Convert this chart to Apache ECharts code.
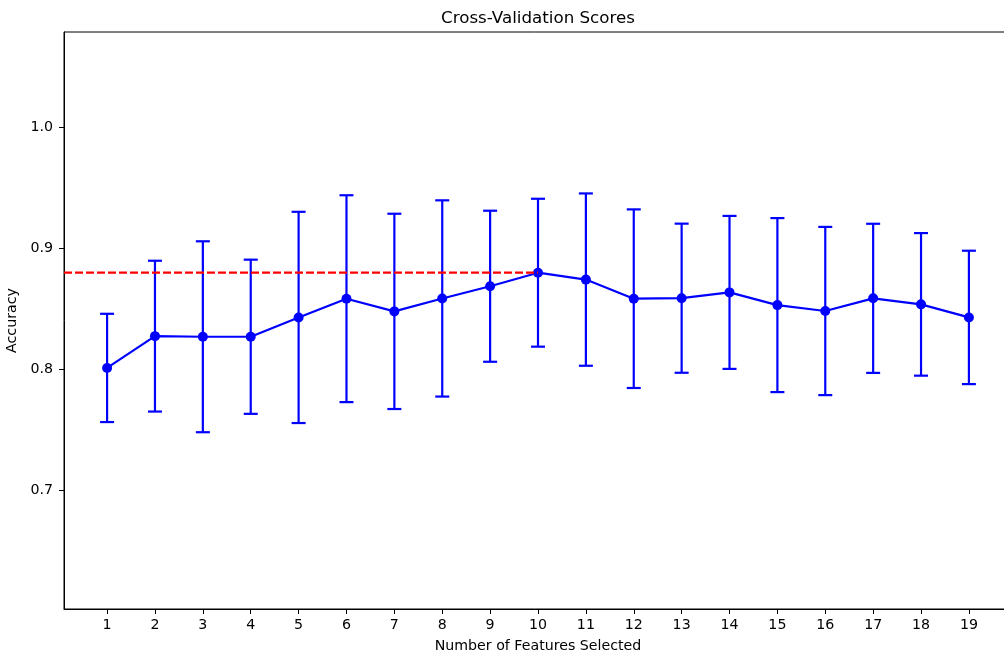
<!DOCTYPE html>
<html>
<head>
<meta charset="utf-8">
<script src="https://cdn.jsdelivr.net/npm/echarts@6/dist/echarts.min.js"></script>
<style>
  html, body { margin: 0; padding: 0; background: #fff; }
  #chart { width: 1004px; height: 656px; }
</style>
</head>
<body>
<div id="chart"></div>
<script>
// ---- Data ----
var features = [1, 2, 3, 4, 5, 6, 7, 8, 9, 10, 11, 12, 13, 14, 15, 16, 17, 18, 19];
var meanScores = [0.8012, 0.8275, 0.8270, 0.8270, 0.8430, 0.8585, 0.8480, 0.8587, 0.8688, 0.8800,
                  0.8743, 0.8585, 0.8589, 0.8637, 0.8532, 0.8483, 0.8588, 0.8538, 0.8430];
var stdScores = [0.0448, 0.0624, 0.0790, 0.0638, 0.0874, 0.0856, 0.0808, 0.0812, 0.0625, 0.0612,
                 0.0713, 0.0739, 0.0617, 0.0633, 0.0720, 0.0696, 0.0617, 0.0590, 0.0552];
var yTicks = [0.7, 0.8, 0.9, 1.0];
var xTicks = features;

var titleText = 'Cross-Validation Scores';
var xLabel = 'Number of Features Selected';
var yLabel = 'Accuracy';

// ---- Derived ----
var xMin = 0.1, xMax = 19.9;
var yMin = 0.6017, yMax = 1.0792;

var lineData = features.map(function (f, i) { return [f, meanScores[i]]; });
var errData = features.map(function (f, i) {
  return [f, meanScores[i] - stdScores[i], meanScores[i] + stdScores[i]];
});
var bestIdx = 0;
meanScores.forEach(function (v, i) { if (v > meanScores[bestIdx]) bestIdx = i; });
var bestScore = meanScores[bestIdx];
var bestLineData = [[xMin, bestScore], [features[bestIdx], bestScore]];

var FONT = 'DejaVu Sans';
var chart = echarts.init(document.getElementById('chart'), null, { renderer: 'canvas' });

var gridLeft = 64, gridTop = 32, gridBottom = 47, gridRight = -8;

chart.setOption({
  animation: false,
  backgroundColor: '#ffffff',
  textStyle: { fontFamily: FONT },
  graphic: [{
    type: 'text',
    x: (gridLeft + (1004 - gridRight)) / 2,
    y: 18.5,
    style: {
      text: titleText,
      fontFamily: FONT,
      fontSize: 16.7,
      fill: '#000',
      align: 'center',
      verticalAlign: 'middle'
    }
  }],
  grid: {
    left: gridLeft, top: gridTop, bottom: gridBottom, right: gridRight,
    show: true, borderColor: '#000', borderWidth: 1, backgroundColor: 'transparent',
    containLabel: false,
    outerBoundsMode: 'none'
  },
  xAxis: {
    type: 'value',
    min: xMin, max: xMax,
    name: xLabel,
    nameLocation: 'middle',
    nameGap: 30,
    nameTextStyle: { fontFamily: FONT, fontSize: 14.2, color: '#000' },
    axisLine: { show: true, onZero: false, lineStyle: { color: '#000', width: 1 } },
    axisTick: { show: true, inside: false, length: 5, customValues: xTicks, lineStyle: { color: '#000', width: 1 } },
    axisLabel: {
      show: true, margin: 9, fontFamily: FONT, fontSize: 14.2, color: '#000',
      customValues: xTicks,
      formatter: function (v) { return String(Math.round(v)); }
    },
    splitLine: { show: false }
  },
  yAxis: {
    type: 'value',
    min: yMin, max: yMax,
    name: yLabel,
    nameLocation: 'middle',
    nameGap: 38.5,
    nameRotate: 90,
    nameTextStyle: { fontFamily: FONT, fontSize: 14.2, color: '#000' },
    axisLine: { show: true, onZero: false, lineStyle: { color: '#000', width: 1 } },
    axisTick: { show: true, inside: false, length: 5, customValues: yTicks, lineStyle: { color: '#000', width: 1 } },
    axisLabel: {
      show: true, margin: 11, fontFamily: FONT, fontSize: 14.2, color: '#000',
      customValues: yTicks,
      formatter: function (v) { return v.toFixed(1); }
    },
    splitLine: { show: false }
  },
  series: [
    {
      type: 'custom',
      name: 'errors',
      data: errData,
      encode: { x: 0, y: [1, 2] },
      z: 2,
      renderItem: function (params, api) {
        var x = api.value(0), lo = api.value(1), hi = api.value(2);
        var pHi = api.coord([x, hi]);
        var pLo = api.coord([x, lo]);
        var half = 7;
        var st = { stroke: '#0000ff', lineWidth: 2.2, fill: null };
        return {
          type: 'group',
          children: [
            { type: 'line', shape: { x1: pHi[0], y1: pHi[1], x2: pLo[0], y2: pLo[1] }, style: st },
            { type: 'line', shape: { x1: pHi[0] - half, y1: pHi[1], x2: pHi[0] + half, y2: pHi[1] }, style: st },
            { type: 'line', shape: { x1: pLo[0] - half, y1: pLo[1], x2: pLo[0] + half, y2: pLo[1] }, style: st }
          ]
        };
      }
    },
    {
      type: 'line',
      name: 'mean',
      data: lineData,
      z: 3,
      symbol: 'circle',
      symbolSize: 10,
      showSymbol: true,
      lineStyle: { color: '#0000ff', width: 2.2 },
      itemStyle: { color: '#0000ff', borderWidth: 0 }
    },
    {
      type: 'line',
      name: 'best',
      data: bestLineData,
      z: 4,
      symbol: 'none',
      lineStyle: { color: '#ff0000', width: 2.2, type: [8, 3] }
    }
  ]
});
</script>
</body>
</html>
